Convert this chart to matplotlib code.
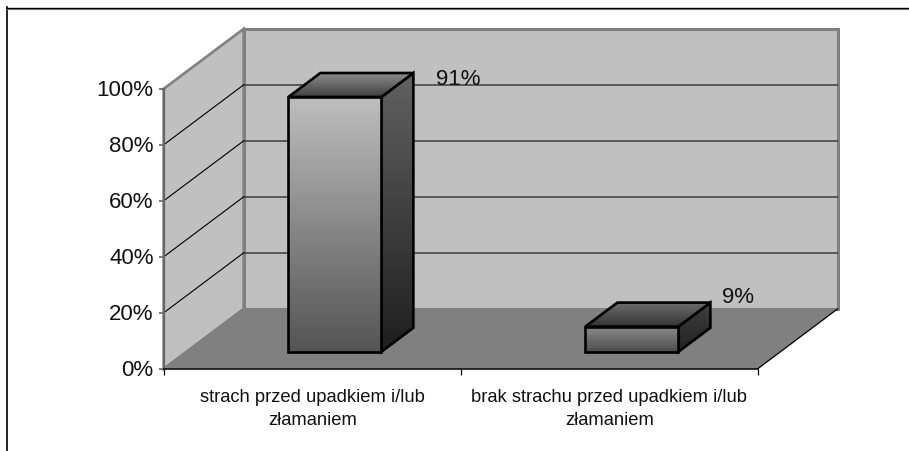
# -*- coding: utf-8 -*-

import numpy as np
import matplotlib
matplotlib.use('Agg')
import matplotlib.pyplot as plt
from matplotlib.lines import Line2D
from matplotlib.patches import Polygon
from matplotlib.transforms import ScaledTranslation

categories = ['strach przed upadkiem i/lub\nzłamaniem',
              'brak strachu przed upadkiem i/lub\nzłamaniem']
values = [91, 9]
value_labels = ['91%', '9%']
y_ticks = [0, 20, 40, 60, 80, 100]
y_tick_labels = ['0%', '20%', '40%', '60%', '80%', '100%']

W, H = 909, 452
# floor depth of the 3D box, in data units
DX = 80 / 297.0
DY = 60 / 2.8
BAR_W = 93 / 297.0
D0, D1 = 17 / 60.0, 41 / 60.0

# face gradients, (start, end) grey levels
front_cols = [(0.74, 0.33), (0.55, 0.30)]
side_cols = [(0.38, 0.12), (0.25, 0.13)]
top_cols = [(0.55, 0.25), (0.42, 0.20)]
label_offset = [(45, -5), (28, 6)]

plt.rcParams['font.family'] = ['Liberation Sans', 'DejaVu Sans']


def proj(x, y, d):
    return (x + d * DX, y + d * DY)


def shaded_face(ax, pts, cols, z):
    # vertical gradient clipped to the face polygon, black outline on top
    xs = [p[0] for p in pts]
    ys = [p[1] for p in pts]
    grad = np.linspace(cols[0], cols[1], 64).reshape(-1, 1)
    im = ax.imshow(grad, extent=(min(xs), max(xs), min(ys), max(ys)), origin='upper',
                   aspect='auto', cmap='gray', vmin=0, vmax=1, zorder=z)
    edge = Polygon(pts, closed=True, fill=False, ec='black', lw=1.9, joinstyle='miter',
                   zorder=z + 0.1)
    ax.add_patch(edge)
    im.set_clip_path(edge)


fig = plt.figure(figsize=(W / 100.0, H / 100.0), dpi=100, facecolor='white')
ax = fig.add_axes([163.7 / W, (H - 369.8) / H, (837.0 - 163) / W, (369.0 - 29) / H])
ax.patch.set_visible(False)

# walls and floor
ax.add_patch(Polygon([proj(0, 0, 1), proj(2, 0, 1), proj(2, 100, 1), proj(0, 100, 1)],
                     fc='#c0c0c0', ec='#808080', lw=2.2, clip_on=False, zorder=1))
ax.add_patch(Polygon([proj(0, 0, 0), proj(0, 0, 1), proj(0, 100, 1), proj(0, 100, 0)],
                     fc='#c0c0c0', ec='#808080', lw=1.9, clip_on=False, zorder=1.2))
ax.add_patch(Polygon([proj(0, 0, 0), proj(2, 0, 0), proj(2, 0, 1), proj(0, 0, 1)],
                     fc='#808080', ec='none', zorder=1.5))
ax.plot(*zip(proj(2, 0, 0), proj(2, 0, 1)), color='black', lw=0.9, zorder=1.6)

# gridlines across both walls
for t in y_ticks[1:-1]:
    ax.plot(*zip(proj(0, t, 1), proj(2, t, 1)), color='#3c3c3c', lw=1.1, zorder=1.3)
    ax.plot(*zip(proj(0, t, 0), proj(0, t, 1)), color='black', lw=0.8, zorder=1.3)

# bars
for i, v in enumerate(values):
    x0 = i + 0.5 - BAR_W / 2
    x1 = i + 0.5 + BAR_W / 2
    shaded_face(ax, [proj(x1, 0, D0), proj(x1, 0, D1), proj(x1, v, D1), proj(x1, v, D0)],
                side_cols[i], 3)
    shaded_face(ax, [proj(x0, v, D0), proj(x1, v, D0), proj(x1, v, D1), proj(x0, v, D1)],
                top_cols[i], 3.2)
    shaded_face(ax, [proj(x0, 0, D0), proj(x1, 0, D0), proj(x1, v, D0), proj(x0, v, D0)],
                front_cols[i], 3.4)
    ax.annotate(value_labels[i], xy=proj(x1, v, D1), xytext=label_offset[i],
                textcoords='offset pixels', ha='center', va='center', fontsize=16,
                color='#111111', zorder=5)

ax.set_xlim(0, 2 + DX)
ax.set_ylim(0, 100 + DY)

for s in ['top', 'right']:
    ax.spines[s].set_visible(False)
ax.spines['left'].set_bounds(0, 100)
ax.spines['left'].set_color('#666666')
ax.spines['left'].set_linewidth(1.6)
ax.spines['bottom'].set_bounds(0, 2)
ax.spines['bottom'].set_linewidth(1.1)
ax.spines['left'].set_zorder(2)
ax.spines['bottom'].set_zorder(2)

ax.set_yticks(y_ticks)
ax.set_yticklabels(y_tick_labels, fontsize=16, color='#111111')
ax.tick_params(axis='y', length=3.6, width=1.2, color='#666666', pad=3.7)
# nudge the percent labels up a little
nudge = ScaledTranslation(0, 1.5 / 100.0, fig.dpi_scale_trans)
for lab in ax.get_yticklabels():
    lab.set_transform(lab.get_transform() + nudge)
ax.set_xticks([0, 1, 2])
ax.set_xticklabels([])
ax.tick_params(axis='x', which='major', length=4.3, width=0.9, color='black')
ax.set_xticks([0.5, 1.5], minor=True)
ax.set_xticklabels(categories, minor=True, fontsize=13.2, linespacing=1.52, color='#111111')
ax.tick_params(axis='x', which='minor', length=0, pad=13.5)

# page frame, open on the right and at the bottom
fig.add_artist(Line2D([7.0 / W, 7.0 / W], [0, 1 - 8.0 / H], color='black', lw=1.2))
fig.add_artist(Line2D([7.0 / W, 1], [1 - 9.8 / H, 1 - 9.8 / H], color='#888888', lw=0.8))
fig.add_artist(Line2D([7.0 / W, 1], [1 - 8.7 / H, 1 - 8.7 / H], color='black', lw=1.0))

plt.savefig('out.png', dpi=100)
plt.close()
